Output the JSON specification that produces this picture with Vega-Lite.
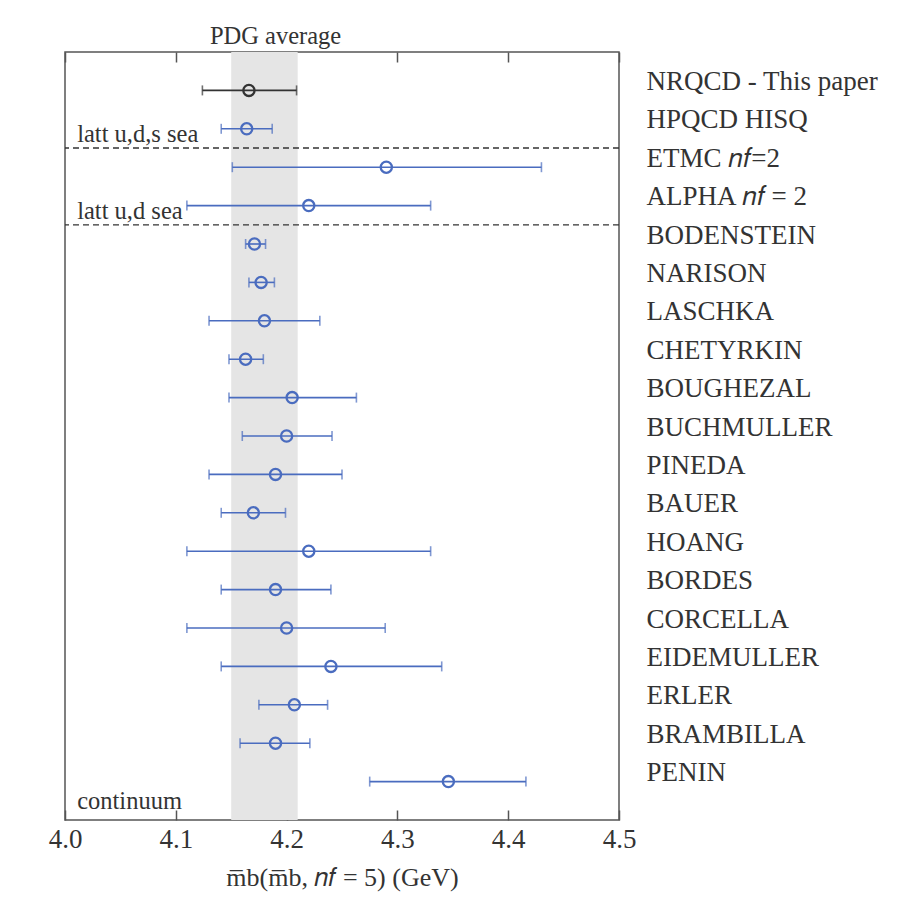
{
  "$schema": "https://vega.github.io/schema/vega-lite/v6.json",
  "width": 554,
  "height": 768,
  "autosize": {"type": "none"},
  "padding": {"left": 65, "top": 52, "right": 279, "bottom": 89},
  "background": "white",
  "config": {
    "view": {"stroke": "#555555", "strokeWidth": 1.5},
    "font": "Liberation Serif"
  },
  "resolve": {"axis": {"x": "independent", "y": "independent"}},
  "datasets": {
    "results": [
      {"row": 1, "name": "NRQCD - This paper", "group": "nrqcd", "value": 4.166, "lo": 4.124, "hi": 4.209},
      {"row": 2, "name": "HPQCD HISQ", "group": "other", "value": 4.164, "lo": 4.141, "hi": 4.187},
      {"row": 3, "name": "ETMC nf=2", "group": "other", "value": 4.29, "lo": 4.151, "hi": 4.43},
      {"row": 4, "name": "ALPHA nf = 2", "group": "other", "value": 4.22, "lo": 4.11, "hi": 4.33},
      {"row": 5, "name": "BODENSTEIN", "group": "other", "value": 4.171, "lo": 4.163, "hi": 4.181},
      {"row": 6, "name": "NARISON", "group": "other", "value": 4.177, "lo": 4.166, "hi": 4.189},
      {"row": 7, "name": "LASCHKA", "group": "other", "value": 4.18, "lo": 4.13, "hi": 4.23},
      {"row": 8, "name": "CHETYRKIN", "group": "other", "value": 4.163, "lo": 4.148, "hi": 4.179},
      {"row": 9, "name": "BOUGHEZAL", "group": "other", "value": 4.205, "lo": 4.148, "hi": 4.263},
      {"row": 10, "name": "BUCHMULLER", "group": "other", "value": 4.2, "lo": 4.16, "hi": 4.241},
      {"row": 11, "name": "PINEDA", "group": "other", "value": 4.19, "lo": 4.13, "hi": 4.25},
      {"row": 12, "name": "BAUER", "group": "other", "value": 4.17, "lo": 4.141, "hi": 4.199},
      {"row": 13, "name": "HOANG", "group": "other", "value": 4.22, "lo": 4.11, "hi": 4.33},
      {"row": 14, "name": "BORDES", "group": "other", "value": 4.19, "lo": 4.141, "hi": 4.24},
      {"row": 15, "name": "CORCELLA", "group": "other", "value": 4.2, "lo": 4.11, "hi": 4.289},
      {"row": 16, "name": "EIDEMULLER", "group": "other", "value": 4.24, "lo": 4.141, "hi": 4.34},
      {"row": 17, "name": "ERLER", "group": "other", "value": 4.207, "lo": 4.175, "hi": 4.237},
      {"row": 18, "name": "BRAMBILLA", "group": "other", "value": 4.19, "lo": 4.158, "hi": 4.221},
      {"row": 19, "name": "PENIN", "group": "other", "value": 4.346, "lo": 4.275, "hi": 4.416}
    ],
    "band": [{"lo": 4.15, "hi": 4.21}],
    "dividers": [{"y": 2.5}, {"y": 4.5}],
    "notes": [
      {"text": "latt u,d,s sea", "x": 4.011, "y": 2.35},
      {"text": "latt u,d sea", "x": 4.011, "y": 4.35},
      {"text": "continuum", "x": 4.011, "y": 19.72}
    ],
    "pdg": [{"text": "PDG average", "x": 4.19, "y": -0.22}]
  },
  "layer": [
    {
      "data": {"name": "band"},
      "mark": {"type": "rect", "color": "#e5e5e5"},
      "encoding": {
        "x": {"field": "lo", "type": "quantitative", "scale": {"domain": [4.0, 4.5], "nice": false, "zero": false},
          "axis": {"orient": "bottom", "values": [4.0, 4.1, 4.2, 4.3, 4.4, 4.5], "format": ".1f", "tickSize": -10, "tickColor": "#555555", "tickWidth": 1.5, "domain": false, "grid": false,
            "labelFont": "Liberation Serif", "labelFontSize": 27, "labelColor": "#333333", "labelPadding": 16, "labelFlush": false, "labelOverlap": false,
            "title": "m̅b(m̅b, 𝑛𝑓 = 5) (GeV)", "titleFont": "Liberation Serif", "titleFontSize": 26, "titleFontWeight": "normal", "titleColor": "#333333", "titlePadding": 12}},
        "x2": {"field": "hi"}
      }
    },
    {
      "data": {"name": "band"},
      "mark": {"type": "rule", "opacity": 0},
      "encoding": {
        "x": {"field": "lo", "type": "quantitative",
          "axis": {"orient": "top", "values": [4.0, 4.1, 4.2, 4.3, 4.4, 4.5], "tickSize": -10, "tickColor": "#555555", "tickWidth": 1.5, "labels": false, "domain": false, "grid": false, "title": null}}
      }
    },
    {
      "data": {"name": "dividers"},
      "mark": {"type": "rule", "color": "#333333", "strokeDash": [6, 4], "strokeWidth": 1.3},
      "encoding": {
        "y": {"field": "y", "type": "quantitative", "scale": {"domain": [0, 20], "reverse": true, "nice": false, "zero": false}, "axis": null}
      }
    },
    {
      "data": {"name": "results"},
      "mark": {"type": "rule", "strokeWidth": 1.6},
      "encoding": {
        "x": {"field": "lo", "type": "quantitative", "axis": null},
        "x2": {"field": "hi"},
        "y": {"field": "row", "type": "quantitative",
          "axis": {"orient": "right", "values": [1,2,3,4,5,6,7,8,9,10,11,12,13,14,15,16,17,18,19],
            "labelExpr": "['','NRQCD - This paper','HPQCD HISQ','ETMC 𝑛𝑓=2','ALPHA 𝑛𝑓 = 2','BODENSTEIN','NARISON','LASCHKA','CHETYRKIN','BOUGHEZAL','BUCHMULLER','PINEDA','BAUER','HOANG','BORDES','CORCELLA','EIDEMULLER','ERLER','BRAMBILLA','PENIN'][datum.value]",
            "ticks": false, "domain": false, "grid": false, "title": null, "labelPadding": 27, "labelAlign": "left", "labelBaseline": "middle", "labelOffset": -9, "labelLimit": 0,
            "labelFont": "Liberation Serif", "labelFontSize": 27, "labelColor": "#333333", "labelOverlap": false}},
        "color": {"field": "group", "type": "nominal", "scale": {"domain": ["nrqcd", "other"], "range": ["#333333", "#4a6cbf"]}, "legend": null}
      }
    },
    {
      "data": {"name": "results"},
      "mark": {"type": "tick", "orient": "vertical", "size": 10, "thickness": 1.6},
      "encoding": {
        "x": {"field": "lo", "type": "quantitative", "axis": null},
        "y": {"field": "row", "type": "quantitative", "axis": null},
        "color": {"field": "group", "type": "nominal", "legend": null}
      }
    },
    {
      "data": {"name": "results"},
      "mark": {"type": "tick", "orient": "vertical", "size": 10, "thickness": 1.6},
      "encoding": {
        "x": {"field": "hi", "type": "quantitative", "axis": null},
        "y": {"field": "row", "type": "quantitative", "axis": null},
        "color": {"field": "group", "type": "nominal", "legend": null}
      }
    },
    {
      "data": {"name": "results"},
      "mark": {"type": "point", "shape": "circle", "filled": false, "size": 125, "strokeWidth": 2.3, "opacity": 1},
      "encoding": {
        "x": {"field": "value", "type": "quantitative", "axis": null},
        "y": {"field": "row", "type": "quantitative", "axis": null},
        "color": {"field": "group", "type": "nominal", "legend": null}
      }
    },
    {
      "data": {"name": "notes"},
      "mark": {"type": "text", "align": "left", "baseline": "alphabetic", "font": "Liberation Serif", "fontSize": 24.5, "color": "#333333"},
      "encoding": {
        "x": {"field": "x", "type": "quantitative", "axis": null},
        "y": {"field": "y", "type": "quantitative", "axis": null},
        "text": {"field": "text"}
      }
    },
    {
      "data": {"name": "pdg"},
      "mark": {"type": "text", "align": "center", "baseline": "alphabetic", "font": "Liberation Serif", "fontSize": 24.5, "color": "#333333", "clip": false},
      "encoding": {
        "x": {"field": "x", "type": "quantitative", "axis": null},
        "y": {"field": "y", "type": "quantitative", "axis": null},
        "text": {"field": "text"}
      }
    }
  ]
}
